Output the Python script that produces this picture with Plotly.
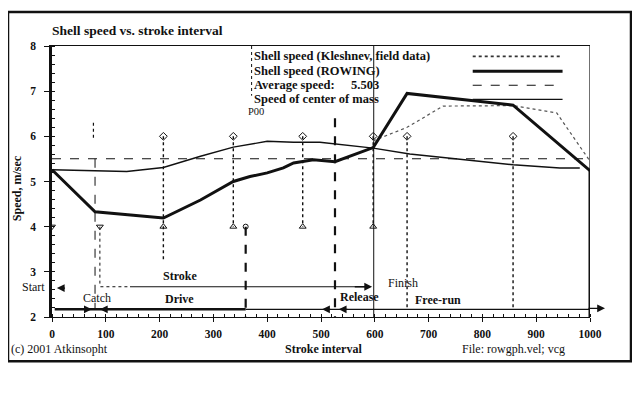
import plotly.graph_objects as go

# ---------------- data ----------------
x_rowing = [0, 80, 207, 276, 337, 368, 400, 430, 449, 486, 526, 597, 660, 792, 857, 1000]
y_rowing = [5.26, 4.33, 4.19, 4.59, 5.0, 5.11, 5.19, 5.3, 5.41, 5.48, 5.44, 5.75, 6.95, 6.78, 6.69, 5.24]

x_com = [0, 139, 207, 276, 337, 400, 449, 498, 597, 665, 857, 944, 981]
y_com = [5.26, 5.22, 5.31, 5.56, 5.76, 5.89, 5.87, 5.87, 5.74, 5.61, 5.37, 5.30, 5.30]

x_kleshnev = [597, 660, 727, 857, 938, 1000]
y_kleshnev = [5.9, 6.2, 6.67, 6.68, 6.52, 5.45]

avg_speed = 5.503

phase_x = [207, 337, 466, 597, 660, 857]
phase_top = [6.0, 6.0, 6.0, 6.0, 6.0, 6.0]
phase_bottom = [3.25, 4.0, 4.0, 4.0, 2.17, 2.17]

x_ticks = [0, 100, 200, 300, 400, 500, 600, 700, 800, 900, 1000]
y_ticks = [2, 3, 4, 5, 6, 7, 8]

catch_x = 80
drive_end_x = 360
release_x = 526
finish_x = 598

legend_labels = ["Shell speed (Kleshnev, field data)", "Shell speed (ROWING)",
                 "Average speed:", "Speed of center of mass"]

FONT = "Liberation Serif, DejaVu Serif, serif"
INK = "#111111"

# screen-pixel helpers (page has an 8px body margin; plot area spans x 52..590, y 46..316.7)
def px(sx):
    return (sx - 52) / 538.0

def py(sy):
    return (316.7 - sy) / 270.7

fig = go.Figure()

# phase marker verticals (dotted, diamonds on top, triangles at 4)
for xx, pt, pb in zip(phase_x, phase_top, phase_bottom):
    fig.add_trace(go.Scatter(x=[xx, xx], y=[pt, pb], mode="lines",
                             line=dict(color=INK, width=1.4, dash="dot"),
                             showlegend=False, hoverinfo="skip"))
fig.add_trace(go.Scatter(x=phase_x, y=phase_top, mode="markers",
                         marker=dict(symbol="diamond-open", size=6, color=INK, line=dict(width=1)),
                         showlegend=False, hoverinfo="skip"))
fig.add_trace(go.Scatter(x=phase_x[:4], y=[4.0] * 4, mode="markers",
                         marker=dict(symbol="triangle-up-open", size=6, color=INK, line=dict(width=1)),
                         showlegend=False, hoverinfo="skip"))

# catch lines
fig.add_trace(go.Scatter(x=[catch_x, catch_x], y=[avg_speed, 2.17], mode="lines",
                         line=dict(color=INK, width=1, dash="dash"), showlegend=False))
fig.add_trace(go.Scatter(x=[77, 77], y=[6.3, 5.95], mode="lines",
                         line=dict(color=INK, width=1.2, dash="dot"), showlegend=False))
fig.add_trace(go.Scatter(x=[89, 89], y=[4.0, 2.74], mode="lines",
                         line=dict(color=INK, width=1, dash="dot"), showlegend=False))
fig.add_trace(go.Scatter(x=[0, 89], y=[4.0, 4.0], mode="markers",
                         marker=dict(symbol="triangle-down-open", size=6, color=INK, line=dict(width=1)),
                         showlegend=False))

# drive end / release / finish verticals
fig.add_trace(go.Scatter(x=[drive_end_x, drive_end_x], y=[4.0, 2.0], mode="lines",
                         line=dict(color=INK, width=2.2, dash="dash"), showlegend=False))
fig.add_trace(go.Scatter(x=[drive_end_x], y=[4.0], mode="markers",
                         marker=dict(symbol="circle-open", size=5, color=INK), showlegend=False))
fig.add_trace(go.Scatter(x=[release_x, release_x], y=[6.4, 2.0], mode="lines",
                         line=dict(color=INK, width=2.2, dash="dash"), showlegend=False))
fig.add_trace(go.Scatter(x=[finish_x, finish_x], y=[2.0, 8.0], mode="lines",
                         line=dict(color=INK, width=1), showlegend=False))

# average speed
fig.add_trace(go.Scatter(x=[0, 1000], y=[avg_speed, avg_speed], mode="lines",
                         line=dict(color=INK, width=1.1, dash="dash"), showlegend=False))
# kleshnev field data
fig.add_trace(go.Scatter(x=x_kleshnev, y=y_kleshnev, mode="lines",
                         line=dict(color="#555555", width=1.2, dash="dot"), showlegend=False))
# center of mass
fig.add_trace(go.Scatter(x=x_com, y=y_com, mode="lines",
                         line=dict(color=INK, width=1.4), showlegend=False))
# rowing
fig.add_trace(go.Scatter(x=x_rowing, y=y_rowing, mode="lines",
                         line=dict(color=INK, width=3), showlegend=False))

# bottom phase bars
fig.add_trace(go.Scatter(x=[5, drive_end_x], y=[2.17, 2.17], mode="lines",
                         line=dict(color=INK, width=2.6), showlegend=False))
fig.add_trace(go.Scatter(x=[drive_end_x, 1000], y=[2.17, 2.17], mode="lines",
                         line=dict(color=INK, width=1.3), showlegend=False))
fig.add_trace(go.Scatter(x=[90, 145], y=[2.67, 2.67], mode="lines",
                         line=dict(color=INK, width=1, dash="dot"), showlegend=False))
fig.add_trace(go.Scatter(x=[145, 590], y=[2.67, 2.67], mode="lines",
                         line=dict(color=INK, width=1.1), showlegend=False))
# start marker below axis
fig.add_trace(go.Scatter(x=[0], y=[1.8], mode="markers", cliponaxis=False,
                         marker=dict(symbol="triangle-up", size=9, color=INK), showlegend=False))

# right frame: thin above the curve end, thick below
fig.add_shape(type="line", x0=1000, x1=1000, y0=5.24, y1=8, line=dict(color=INK, width=1.2))
fig.add_shape(type="line", x0=1000, x1=1000, y0=2.0, y1=5.24, line=dict(color=INK, width=3))

# legend samples (data coords inside plot)
leg_y = [7.77, 7.44, 7.13, 6.82]
leg_styles = [dict(color="#333333", width=1.6, dash="dot"),
              dict(color=INK, width=3),
              dict(color=INK, width=1.1, dash="dash"),
              dict(color=INK, width=1.2)]
for ly, st, lab in zip(leg_y, leg_styles, legend_labels):
    fig.add_shape(type="line", x0=782, x1=949, y0=ly, y1=ly, line=st)
    fig.add_annotation(x=371, y=ly, text="<b>" + lab + "</b>", showarrow=False, xanchor="left",
                       yanchor="middle", font=dict(family=FONT, size=12.5, color=INK))
fig.add_annotation(x=612, y=leg_y[2], text="<b>5.503</b>", showarrow=False, xanchor="right",
                   yanchor="middle", font=dict(family=FONT, size=12.5, color=INK))
fig.add_shape(type="line", x0=371, x1=371, y0=8, y1=6.9, line=dict(color=INK, width=1, dash="dot"))
fig.add_annotation(x=380, y=6.55, text="P00", showarrow=False, xanchor="center", yanchor="middle",
                   font=dict(family=FONT, size=10.5, color=INK))

# arrows
def arrow(x, y, axv, ayv, size=1.2):
    fig.add_annotation(x=x, y=y, ax=axv, ay=ayv, xref="x", yref="y", axref="x", ayref="y",
                       showarrow=True, arrowhead=2, arrowsize=size, arrowwidth=1.3,
                       arrowcolor=INK, text="")

arrow(9, 2.64, 27, 2.64)        # start
arrow(74, 2.17, 55, 2.17)       # catch (from left)
arrow(89, 2.17, 108, 2.17)      # catch (from right)
arrow(595, 2.67, 560, 2.67)     # stroke end
arrow(502, 2.17, 520, 2.17)     # release
arrow(533, 2.17, 552, 2.17)     # release
fig.add_annotation(x=px(605), y=py(308), xref="paper", yref="paper", ax=-18, ay=0,
                   showarrow=True, arrowhead=2, arrowsize=1.2, arrowwidth=1.3,
                   arrowcolor=INK, text="")

# phase labels
def label(x, y, t, bold=False, size=12):
    fig.add_annotation(x=x, y=y, text=("<b>%s</b>" % t) if bold else t, showarrow=False,
                       xanchor="center", yanchor="middle",
                       font=dict(family=FONT, size=size, color=INK))

label(238, 2.90, "Stroke", bold=True)
label(237, 2.39, "Drive", bold=True)
label(84, 2.41, "Catch")
label(572, 2.44, "Release", bold=True)
label(652, 2.75, "Finish")
label(718, 2.37, "Free-run", bold=True)

def ptext(sx, sy, t, size=12, xa="center", angle=0):
    fig.add_annotation(x=px(sx), y=py(sy), xref="paper", yref="paper", text=t,
                       showarrow=False, xanchor=xa, yanchor="middle", textangle=angle,
                       font=dict(family=FONT, size=size, color=INK))

ptext(33, 287, "Start", size=12)
ptext(50, 31, "<b>Shell speed vs. stroke interval</b>", size=13.5, xa="left")
ptext(17, 188, "<b>Speed, m/sec</b>", size=12, angle=-90)
ptext(323, 349, "<b>Stroke interval</b>")
ptext(9, 349, "(c) 2001 Atkinsopht", xa="left")
ptext(513, 349, "File: rowgph.vel; vcg")

# outer frame
fig.add_shape(type="rect", xref="paper", yref="paper",
              x0=px(8), x1=px(631), y0=py(361), y1=py(12),
              line=dict(color=INK, width=2.5))

fig.update_layout(
    width=624, height=377,
    margin=dict(l=44, r=42, t=38, b=68.3),
    paper_bgcolor="white", plot_bgcolor="white",
    showlegend=False,
    font=dict(family=FONT, color=INK),
    xaxis=dict(range=[0, 1000], tickvals=x_ticks, ticktext=["<b>%d</b>" % v for v in x_ticks],
               showgrid=False, zeroline=False, showline=True, linecolor=INK, linewidth=1.4,
               mirror=True, ticks="outside", ticklen=4, tickcolor=INK,
               tickfont=dict(family=FONT, size=11.5, color=INK), ticklabelstandoff=2,
               minor=dict(dtick=20, ticks="inside", ticklen=3, tickcolor=INK, showgrid=False)),
    yaxis=dict(range=[2, 8], tickvals=y_ticks, ticktext=["<b>%d</b>" % v for v in y_ticks],
               showgrid=False, zeroline=False,
               showline=True, linecolor=INK, linewidth=2.5, ticks="outside", ticklen=5,
               tickcolor=INK, tickfont=dict(family=FONT, size=11.5, color=INK),
               ticklabelstandoff=6,
               minor=dict(dtick=0.2, ticks="inside", ticklen=3, tickcolor=INK, showgrid=False)),
)

fig.write_html("out.html")
